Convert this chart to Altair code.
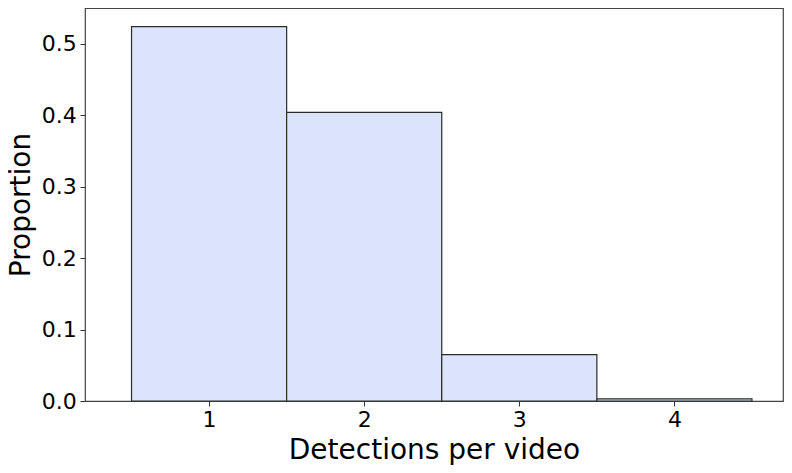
import altair as alt
import pandas as pd

detections = [1, 2, 3, 4]
proportions = [0.524, 0.404, 0.065, 0.003]

df = pd.DataFrame({"detections": detections, "proportion": proportions})
df["x0"] = df["detections"] - 0.5
df["x1"] = df["detections"] + 0.5

FONT = "DejaVu Sans"

chart = (
    alt.Chart(df)
    .mark_rect(fill="#dbe4fb", stroke="#2b2b2b", strokeWidth=1.2)
    .encode(
        x=alt.X(
            "x0:Q",
            scale=alt.Scale(domain=[0.2, 4.7], nice=False, zero=False),
            axis=alt.Axis(
                title="Detections per video",
                values=[1, 2, 3, 4],
                format="d",
                grid=False,
                domain=False,
                tickSize=5,
                tickColor="#333333",
                tickWidth=1,
                labelPadding=3.5,
                labelFontSize=22,
                labelFont=FONT,
                labelColor="#000000",
                titleFontSize=28,
                titleFont=FONT,
                titleFontWeight="normal",
                titleColor="#000000",
                titleBaseline="alphabetic",
                titleY=57,
            ),
        ),
        x2="x1:Q",
        y=alt.Y(
            "proportion:Q",
            scale=alt.Scale(domain=[0, 0.55], nice=False),
            axis=alt.Axis(
                title="Proportion",
                values=[0, 0.1, 0.2, 0.3, 0.4, 0.5],
                format=".1f",
                grid=False,
                domain=False,
                tickSize=5,
                tickColor="#333333",
                tickWidth=1,
                labelPadding=3.7,
                labelFontSize=22,
                labelFont=FONT,
                labelColor="#000000",
                titleFontSize=28,
                titleFont=FONT,
                titleFontWeight="normal",
                titleColor="#000000",
                titleAngle=270,
                titleBaseline="alphabetic",
                titleAlign="center",
                titleX=-55.5,
                titleY=196.5,
            ),
        ),
        y2=alt.datum(0),
    )
    .properties(
        width=698,
        height=393,
        background="white",
        autosize=alt.AutoSizeParams(type="none"),
        padding={"left": 77, "top": 0, "right": 1, "bottom": 64},
    )
    .configure_view(stroke="#444444", strokeWidth=1.2)
)

chart.save("out.html", embed_options={"renderer": "svg", "actions": False})
